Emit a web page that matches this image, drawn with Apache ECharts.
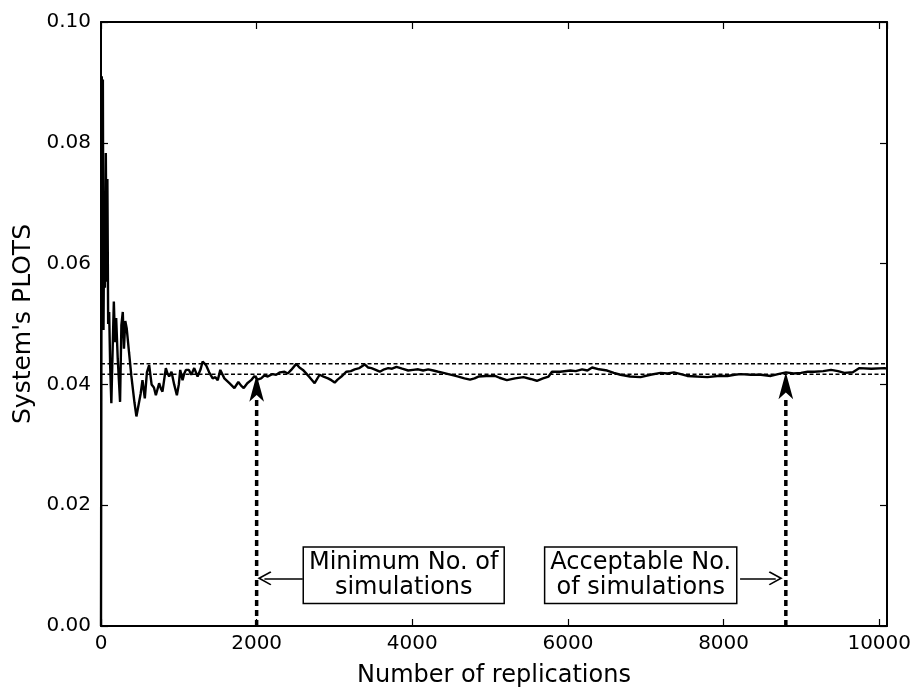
<!DOCTYPE html>
<html>
<head>
<meta charset="utf-8">
<script src="https://cdn.jsdelivr.net/npm/echarts@6/dist/echarts.min.js"></script>
<style>html,body{margin:0;padding:0;background:#fff}#c{width:914px;height:690px}</style>
</head>
<body>
<div id="c"></div>
<script>
// ---- data ----
const replications = [0,10,18,24,32,42,50,62,72,82,92,105,118,133,150,165,180,195,215,245,262,280,295,312,330,361,390,430,455,480,510,533,563,590,619,650,680,705,747,770,790,833,855,876,906,940,975,1000,1018,1048,1070,1091,1130,1160,1198,1241,1280,1306,1349,1390,1435,1470,1500,1533,1585,1650,1714,1765,1800,1834,1880,1929,1972,2010,2058,2100,2143,2200,2251,2300,2358,2400,2444,2509,2550,2595,2680,2745,2809,2860,2917,2960,3003,3040,3089,3153,3210,3260,3320,3389,3430,3475,3530,3582,3640,3690,3740,3797,3870,3947,4010,4076,4140,4205,4270,4334,4400,4463,4530,4592,4670,4742,4800,4850,4950,5064,5120,5215,5320,5429,5520,5601,5680,5751,5795,5900,6031,6100,6182,6250,6311,6400,6504,6590,6675,6800,6933,7060,7191,7280,7362,7450,7534,7660,7792,7920,8050,8140,8222,8350,8479,8608,8700,8802,8900,8995,9080,9166,9280,9381,9470,9553,9661,9746,9900,10068,10100];
const plotsValues = [0,0.091,0.062,0.0905,0.049,0.070,0.056,0.0783,0.057,0.074,0.050,0.052,0.043,0.0369,0.046,0.0537,0.047,0.051,0.0443,0.0371,0.0498,0.052,0.0459,0.0505,0.0493,0.0452,0.0414,0.037,0.0347,0.0350,0.0385,0.0407,0.0377,0.042,0.0432,0.040,0.0395,0.0382,0.0402,0.0393,0.0388,0.0427,0.0418,0.0413,0.0421,0.040,0.0382,0.040,0.0424,0.0407,0.0418,0.0424,0.0424,0.0416,0.0427,0.0413,0.0425,0.0438,0.0432,0.0420,0.0410,0.0412,0.0407,0.0424,0.0410,0.0402,0.0394,0.0404,0.0398,0.0394,0.0402,0.0407,0.0414,0.0408,0.0410,0.0415,0.0413,0.0417,0.0416,0.0420,0.0421,0.0418,0.0424,0.0434,0.0428,0.0424,0.0412,0.0402,0.0416,0.0413,0.0410,0.0407,0.0403,0.0408,0.0413,0.0421,0.0422,0.0425,0.0427,0.0433,0.0428,0.0427,0.0424,0.0421,0.0425,0.0427,0.0426,0.0429,0.0426,0.0423,0.0424,0.0425,0.0423,0.0425,0.0423,0.0421,0.0419,0.0417,0.0415,0.0413,0.0410,0.0408,0.0410,0.0413,0.0414,0.0414,0.0411,0.0407,0.0410,0.0412,0.0409,0.0406,0.0410,0.0413,0.0421,0.0421,0.0423,0.0422,0.0425,0.0423,0.0428,0.0425,0.0423,0.0419,0.0416,0.0413,0.0412,0.0416,0.0419,0.0418,0.0420,0.0417,0.0414,0.0413,0.0412,0.0414,0.0414,0.0416,0.0417,0.0416,0.0416,0.0414,0.0417,0.0420,0.0418,0.0419,0.0421,0.0421,0.0422,0.0424,0.0422,0.0419,0.0420,0.0427,0.0426,0.0427,0.0426];
const upperBound = 0.0434;
const lowerBound = 0.0417;
const markerX = [2000, 8800];          // minimum / acceptable number of simulations
const markerTip = [0.0416, 0.0420];    // where the vertical arrows point
const annotationTexts = ['Minimum No. of\nsimulations', 'Acceptable No.\nof simulations'];
const annotationCenters = [[3890, 0.0084], [6935, 0.0084]];
const annotationArrowFrom = [[2593, 0.0079], [8212, 0.0079]];
const annotationArrowTo = [[2100, 0.0079], [8670, 0.0079]];
const xTitle = 'Number of replications';
const yTitle = "System's PLOTS";
const xMin = 0, xMax = 10100, xStep = 2000;
const yMin = 0, yMax = 0.10, yStep = 0.02;

// ---- chart ----
const FONT = 'DejaVu Sans';
const chart = echarts.init(document.getElementById('c'), null, {renderer: 'canvas'});
const lineData = replications.map((x, i) => [x, plotsValues[i]]);
const tickStyle = {show: true, inside: true, length: 7, lineStyle: {color: '#000', width: 1.2}};
const axisLine = {show: true, onZero: false, lineStyle: {color: '#000', width: 2}};
const chevron = 'path://M5,0 L10,9 L9.2,9.8 L5,2.4 L0.8,9.8 L0,9 Z';

const series = [
  {
    type: 'line', data: lineData, showSymbol: false, symbol: 'none',
    lineStyle: {color: '#000', width: 2.4}, z: 5, animation: false
  },
  {
    type: 'line', data: [[xMin, upperBound], [xMax, upperBound]], symbol: 'none',
    lineStyle: {color: '#000', width: 1.5, type: [4, 2.5]}, z: 4, animation: false
  },
  {
    type: 'line', data: [[xMin, lowerBound], [xMax, lowerBound]], symbol: 'none',
    lineStyle: {color: '#000', width: 1.5, type: [4, 2.5]}, z: 4, animation: false
  }
];
markerX.forEach((mx, i) => {
  series.push({
    type: 'line', data: [[mx, yMin], [mx, markerTip[i] - 0.004]], symbol: 'none',
    lineStyle: {color: '#000', width: 3.5, type: [6, 4]}, z: 6, animation: false
  });
  series.push({
    type: 'scatter', data: [[mx, markerTip[i]]], symbol: 'arrow', symbolSize: [11, 27],
    itemStyle: {color: '#000', opacity: 1}, z: 7, animation: false
  });
  series.push({
    type: 'scatter', data: [annotationCenters[i]], symbolSize: 0, z: 8, animation: false,
    itemStyle: {opacity: 1},
    label: {
      show: true, position: 'inside', formatter: annotationTexts[i],
      fontFamily: FONT, fontSize: 24, lineHeight: 25, color: '#000', align: 'center',
      backgroundColor: '#fff', borderColor: '#000', borderWidth: 1.5, padding: [3, 5, 2, 5]
    }
  });
});
series.push({
  type: 'line', data: [], symbol: 'none', animation: false,
  markLine: {
    silent: true, animation: false, symbol: ['none', chevron], symbolSize: 14,
    lineStyle: {color: '#000', width: 1.5, type: 'solid'}, label: {show: false},
    data: annotationArrowFrom.map((f, i) => [{coord: f}, {coord: annotationArrowTo[i]}])
  }
});

chart.setOption({
  animation: false,
  backgroundColor: '#fff',
  grid: {left: 101, right: 27, top: 22, bottom: 64, containLabel: false, outerBoundsMode: 'none'},
  xAxis: [
    {
      type: 'value', min: xMin, max: xMax, interval: xStep, position: 'bottom',
      name: xTitle, nameLocation: 'middle', nameGap: 38,
      nameTextStyle: {fontFamily: FONT, fontSize: 24, color: '#000'},
      axisLine: axisLine, axisTick: tickStyle, splitLine: {show: false},
      axisLabel: {fontFamily: FONT, fontSize: 20, color: '#000', margin: 8, showMaxLabel: false,
        formatter: v => String(v)}
    },
    {
      type: 'value', min: xMin, max: xMax, interval: xStep, position: 'top',
      axisLine: axisLine, axisTick: tickStyle, splitLine: {show: false}, axisLabel: {show: false}
    }
  ],
  yAxis: [
    {
      type: 'value', min: yMin, max: yMax, interval: yStep, position: 'left',
      name: yTitle, nameLocation: 'middle', nameGap: 62, nameRotate: 90,
      nameTextStyle: {fontFamily: FONT, fontSize: 25, color: '#000'},
      axisLine: axisLine, axisTick: tickStyle, splitLine: {show: false},
      axisLabel: {fontFamily: FONT, fontSize: 20, color: '#000', margin: 10, formatter: v => v.toFixed(2)}
    },
    {
      type: 'value', min: yMin, max: yMax, interval: yStep, position: 'right',
      axisLine: axisLine, axisTick: tickStyle, splitLine: {show: false}, axisLabel: {show: false}
    }
  ],
  series: series
});
</script>
</body>
</html>
